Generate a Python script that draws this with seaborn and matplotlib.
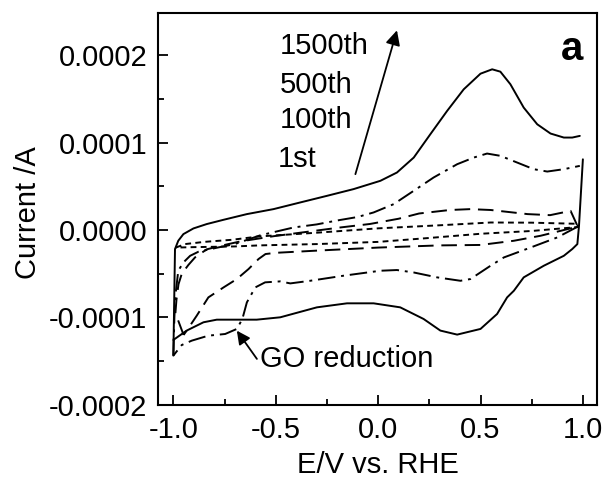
import matplotlib
matplotlib.use("Agg")
import matplotlib.pyplot as plt
from matplotlib.ticker import MultipleLocator, FormatStrFormatter
import numpy as np
import pandas as pd
import seaborn as sns

# ---- data (current in units of 1e-4 A) ----
# 1500th cycle (solid): anodic branch, then cathodic branch
c1500_up_x = [-1.0, -0.992, -0.976, -0.951, -0.902, -0.837, -0.755, -0.641, -0.511, -0.381, -0.25, -0.12,
              0.011, 0.092, 0.174, 0.255, 0.337, 0.418, 0.5, 0.557, 0.597, 0.646, 0.711, 0.777, 0.842,
              0.907, 0.948, 0.985]
c1500_up_y = [-1.436, -0.217, -0.122, -0.046, 0.019, 0.069, 0.118, 0.183, 0.24, 0.316, 0.392, 0.469,
              0.564, 0.659, 0.830, 1.097, 1.364, 1.611, 1.790, 1.840, 1.813, 1.669, 1.402, 1.211, 1.105,
              1.059, 1.059, 1.078]
c1500_dn_x = [1.0, 0.981, 0.973, 0.948, 0.907, 0.809, 0.711, 0.663, 0.630, 0.581, 0.5, 0.386, 0.304,
              0.222, 0.108, -0.022, -0.152, -0.299, -0.478, -0.593, -0.788, -0.853, -0.935, -1.0]
c1500_dn_y = [0.81, 0.049, -0.16, -0.217, -0.294, -0.408, -0.541, -0.694, -0.770, -0.96, -1.131, -1.196,
              -1.150, -1.017, -0.884, -0.838, -0.838, -0.884, -0.998, -1.025, -1.025, -1.055, -1.150, -1.257]

# 500th cycle (dash-dot)
c500_x = [-1.0, -0.995, -0.99, -0.976, -0.951, -0.918, -0.878, -0.78, -0.7, -0.576, -0.413, -0.3, -0.2,
          -0.1, -0.022, 0.076, 0.174, 0.271, 0.386, 0.467, 0.532, 0.597, 0.679, 0.76, 0.826, 0.907, 0.985]
c500_y = [-1.436, -1.0, -0.75, -0.465, -0.37, -0.294, -0.248, -0.198, -0.16, -0.06, 0.03, 0.065, 0.11,
          0.15, 0.202, 0.297, 0.45, 0.602, 0.754, 0.83, 0.876, 0.85, 0.773, 0.697, 0.67, 0.697, 0.735]
c500_dn_x = [0.975, 0.875, 0.744, 0.614, 0.549, 0.451, 0.402, 0.288, 0.174, 0.092, 0.011, -0.169, -0.332,
             -0.429, -0.478, -0.552, -0.6, -0.641, -0.663, -0.69, -0.747, -0.829, -0.91, -0.959, -1.0]
c500_dn_y = [0.04, -0.084, -0.2, -0.313, -0.408, -0.56, -0.58, -0.541, -0.485, -0.457, -0.465, -0.522,
             -0.58, -0.61, -0.587, -0.598, -0.656, -0.827, -1.017, -1.131, -1.189, -1.208, -1.265, -1.315,
             -1.436]

# 100th cycle (dashed)
c100_x = [-0.95, -0.99, -0.985, -0.975, -0.959, -0.927, -0.894, -0.837, -0.75, -0.674, -0.511, -0.348,
          -0.185, -0.04, 0.1, 0.2, 0.35, 0.45, 0.55, 0.73, 0.84, 0.94, 0.975, 0.793, 0.663, 0.5, 0.3,
          0.0, -0.3, -0.5, -0.55, -0.584, -0.633, -0.69, -0.755, -0.829, -0.886, -0.935, -0.95]
c100_y = [-1.2, -0.95, -0.8, -0.62, -0.5, -0.4, -0.312, -0.22, -0.17, -0.13, -0.07, -0.02,
          0.03, 0.07, 0.13, 0.19, 0.23, 0.24, 0.23, 0.183, 0.171, 0.22, 0.04, -0.065, -0.122, -0.17, -0.175,
          -0.2, -0.235, -0.26, -0.274, -0.331, -0.446, -0.56, -0.656, -0.77, -0.98, -1.151, -1.2]

# 1st cycle (dotted)
c1_x = [-0.988, -0.943, -0.845, -0.714, -0.584, -0.3, 0.0, 0.3, 0.55, 0.75, 0.975,
        0.975, 0.75, 0.5, 0.25, 0.0, -0.3, -0.58, -0.7, -0.9, -0.988]
c1_y = [-0.2, -0.16, -0.134, -0.111, -0.073, -0.03, 0.02, 0.055, 0.087, 0.085, 0.072,
        0.035, -0.01, -0.042, -0.09, -0.135, -0.16, -0.175, -0.187, -0.195, -0.2]

cycle_labels = ["1500th", "500th", "100th", "1st"]
x_ticks = [-1.0, -0.5, 0.0, 0.5, 1.0]
y_ticks = [-0.0002, -0.0001, 0.0, 0.0001, 0.0002]
SCALE = 1e-4

sns.set_style("ticks")
plt.rcParams["font.family"] = ["Liberation Sans", "DejaVu Sans"]
plt.rcParams["axes.unicode_minus"] = False
plt.rcParams["text.color"] = "black"
plt.rcParams["axes.labelcolor"] = "black"
FS = 21

fig = plt.figure(figsize=(6.14, 4.78), dpi=100)
ax = fig.add_axes([0.258, 0.153, 0.714, 0.819])

def draw(xs, ys, ls):
    df = pd.DataFrame({"E": xs, "I": np.array(ys) * SCALE})
    sns.lineplot(data=df, x="E", y="I", sort=False, estimator=None, ax=ax,
                 color="black", linewidth=1.4, linestyle=ls)

draw(c1_x, c1_y, (0, (3, 2.2)))
draw(c100_x, c100_y, (0, (8, 4)))
draw(c500_x, c500_y, (0, (9, 3, 1.5, 3)))
draw(c500_dn_x, c500_dn_y, (0, (9, 3, 1.5, 3)))
draw(c1500_up_x, c1500_up_y, "-")
draw(c1500_dn_x, c1500_dn_y, "-")

ax.set_xlim(-1.073, 1.068)
ax.set_ylim(-0.0002, 0.000248)
ax.set_xticks(x_ticks)
ax.set_yticks(y_ticks)
ax.xaxis.set_minor_locator(MultipleLocator(0.25))
ax.yaxis.set_minor_locator(MultipleLocator(0.00005))
ax.xaxis.set_major_formatter(FormatStrFormatter("%.1f"))
ax.yaxis.set_major_formatter(FormatStrFormatter("%.4f"))
ax.tick_params(which="both", direction="in", width=1.3, colors="black", labelsize=FS)
ax.tick_params(which="major", length=7)
ax.tick_params(which="minor", length=4)
ax.tick_params(axis="y", pad=8)
ax.tick_params(axis="x", pad=8)
for sp in ax.spines.values():
    sp.set_linewidth(1.5)
    sp.set_color("black")

ax.set_xlabel("E/V vs. RHE", fontsize=FS, color="black")
ax.set_ylabel("Current /A", fontsize=FS, color="black")
ax.xaxis.set_label_coords(0.5, -0.117)
ax.yaxis.set_label_coords(-0.266, 0.49)

# cycle labels
label_x = [-0.478, -0.478, -0.478, -0.49]
label_y = [2.011, 1.573, 1.166, 0.727]
for t, lx, ly in zip(cycle_labels, label_x, label_y):
    ax.text(lx, ly * SCALE, t, fontsize=FS, ha="left", va="baseline", color="black")

ax.annotate("", xy=(0.092, 2.286 * SCALE), xytext=(-0.111, 0.64 * SCALE),
            arrowprops=dict(arrowstyle="-|>", color="black", lw=1.3, mutation_scale=22,
                            shrinkA=0, shrinkB=0))

ax.annotate("", xy=(-0.69, -1.151 * SCALE), xytext=(-0.592, -1.474 * SCALE),
            arrowprops=dict(arrowstyle="-|>", color="black", lw=1.3, mutation_scale=20,
                            shrinkA=0, shrinkB=0))
ax.text(-0.576, -1.57 * SCALE, "GO reduction", fontsize=FS, ha="left", va="baseline", color="black")

ax.text(0.945, 1.946 * SCALE, "a", fontsize=29, fontweight="bold", ha="center", va="baseline",
        color="black")

fig.savefig("out.png", dpi=100)
